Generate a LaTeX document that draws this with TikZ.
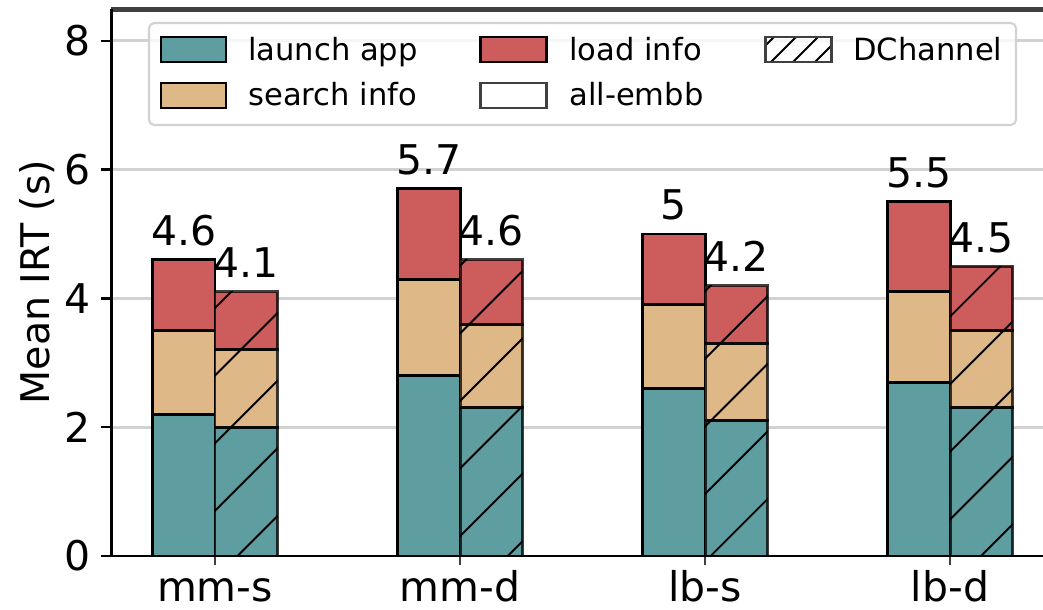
\documentclass[tikz,border=0pt]{standalone}
\usepackage{fontspec}
\setmainfont{DejaVu Sans}
\usetikzlibrary{calc}

\definecolor{launch}{HTML}{5F9EA0}
\definecolor{search}{HTML}{DEB887}
\definecolor{load}{HTML}{CD5C5C}
\definecolor{spinegray}{HTML}{404040}
\definecolor{gridgray}{HTML}{D2D2D2}

\tikzset{
  segm/.style={draw=black, line width=1.7pt},
  dseg/.style={draw=black, draw opacity=0.75, line width=1.7pt},
  hatchline/.style={black, line width=1.1pt},
  bignum/.style={inner sep=0pt, font=\fontsize{23.3}{28}\selectfont},
  legtext/.style={inner sep=0pt, anchor=base west, font=\fontsize{17.4}{21}\selectfont},
}

\begin{document}
\begin{tikzpicture}[x=0.02cm, y=0.02cm]
	\newcommand{\barw}{62.5}
	\newcommand{\ybase}{53}
	\newcommand{\ystep}{64.4}
	
	\useasboundingbox (0,0) rectangle (1043,609);
	
	% grid and y ticks
	\foreach \v in {2,4,6,8}
		\draw[gridgray, line width=1.7pt] (111,{\ybase+\ystep*\v}) -- (1043,{\ybase+\ystep*\v});
	\foreach \v in {0,2,4,6,8}{
		\draw[black, line width=1.4pt] (101,{\ybase+\ystep*\v}) -- (111,{\ybase+\ystep*\v});
		\node[bignum, anchor=east] (ytick\v) at (91,{\ybase+\ystep*\v}) {\v};
	}
	
	% stacked bars: all-embb left, DChannel right
	\foreach \id/\nm/\xc/\ea/\eb/\et/\da/\db/\dt in {
		ms/mm-s/215/2.2/3.5/4.6/2.0/3.2/4.1,
		md/mm-d/460/2.8/4.3/5.7/2.3/3.6/4.6,
		ls/lb-s/705/2.6/3.9/5/2.1/3.3/4.2,
		ld/lb-d/950/2.7/4.1/5.5/2.3/3.5/4.5}{
		\draw[segm, fill=launch] ({\xc-\barw},\ybase) rectangle (\xc,{\ybase+\ystep*\ea});
		\draw[segm, fill=search] ({\xc-\barw},{\ybase+\ystep*\ea}) rectangle (\xc,{\ybase+\ystep*\eb});
		\draw[segm, fill=load] ({\xc-\barw},{\ybase+\ystep*\eb}) rectangle (\xc,{\ybase+\ystep*\et});
		
		\fill[launch] (\xc,\ybase) rectangle ({\xc+\barw},{\ybase+\ystep*\da});
		\fill[search] (\xc,{\ybase+\ystep*\da}) rectangle ({\xc+\barw},{\ybase+\ystep*\db});
		\fill[load] (\xc,{\ybase+\ystep*\db}) rectangle ({\xc+\barw},{\ybase+\ystep*\dt});
		\begin{scope}
			\clip (\xc,\ybase) rectangle ({\xc+\barw},{\ybase+\ystep*\dt});
			\foreach \k in {0,...,24}
				\draw[hatchline] ({\xc-20},{\xc-20+559.2-67.6*\k}) -- ({\xc+\barw+20},{\xc+\barw+20+559.2-67.6*\k});
		\end{scope}
		\draw[dseg] (\xc,\ybase) rectangle ({\xc+\barw},{\ybase+\ystep*\da});
		\draw[dseg] (\xc,{\ybase+\ystep*\da}) rectangle ({\xc+\barw},{\ybase+\ystep*\db});
		\draw[dseg] (\xc,{\ybase+\ystep*\db}) rectangle ({\xc+\barw},{\ybase+\ystep*\dt});
		
		\node[bignum, anchor=base] (top\id e) at ({\xc-\barw/2},{\ybase+\ystep*\et+14}) {\et};
		\node[bignum, anchor=base] (top\id d) at ({\xc+\barw/2},{\ybase+\ystep*\dt+14}) {\dt};
		
		\draw[spinegray, line width=1.4pt] (\xc,\ybase) -- (\xc,{\ybase-9});
		\node[bignum, anchor=base] (xtick\id) at (\xc,8) {\nm};
	}
	
	% spines
	\draw[spinegray, line width=2.3pt] (111,599.5) -- (1043,599.5);
	\draw[black, line width=1.7pt] (111.5,599.5) -- (111.5,\ybase) -- (1043,\ybase);
	
	\node[bignum, rotate=90, font=\fontsize{22.5}{27}\selectfont] (ylab) at (37,327) {Mean IRT (s)};
	
	% legend
	\draw[rounded corners=3pt, draw=gray!35, fill=white, fill opacity=0.8, line width=1.2pt] (149,586) rectangle (1016,484);
	\draw[segm, fill=launch] (161,572) rectangle (226,547);
	\draw[segm, fill=search] (161,526) rectangle (226,501);
	\draw[segm, fill=load] (480,572) rectangle (546,547);
	\draw[segm, draw=spinegray, fill=white] (480,526) rectangle (546,501);
	\begin{scope}
		\clip (765,572) rectangle (831,547);
		\foreach \k in {0,...,5}
			\draw[hatchline] (745,{745-290+22*\k}) -- (850,{850-290+22*\k});
	\end{scope}
	\draw[segm, draw=spinegray] (765,572) rectangle (831,547);
	\node[legtext] (leglaunch) at (248,548.5) {launch app};
	\node[legtext] (legsearch) at (248,503) {search info};
	\node[legtext] (legload) at (569,548.5) {load info};
	\node[legtext] (legembb) at (569,503) {all-embb};
	\node[legtext] (legdch) at (853,548.5) {DChannel};
\end{tikzpicture}
\end{document}
